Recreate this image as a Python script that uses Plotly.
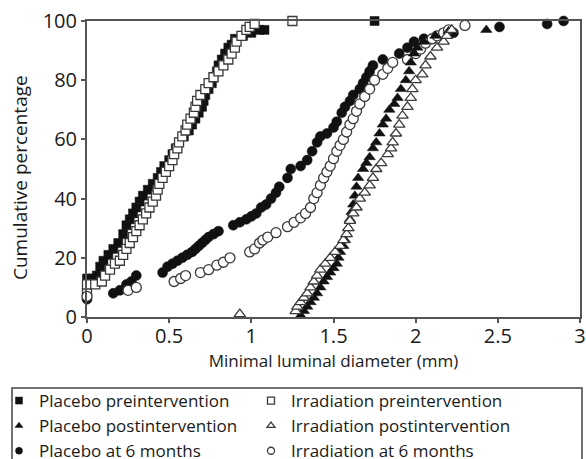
import plotly.graph_objects as go

# Placebo preintervention (filled squares)
pp_x = [0, 0.03, 0.06, 0.08, 0.1, 0.13, 0.16, 0.19, 0.22, 0.24, 0.26, 0.28, 0.3, 0.32, 0.34, 0.37, 0.4, 0.43, 0.45, 0.47,
        0.5, 0.52, 0.54, 0.56, 0.59, 0.62, 0.64, 0.66, 0.68, 0.7, 0.71, 0.72, 0.74, 0.76, 0.77, 0.79, 0.8, 0.82, 0.84, 0.86,
        0.88, 0.9, 0.95, 1.0, 1.05, 1.08, 1.75]
pp_y = [13, 13, 14, 17, 19, 21, 23, 25, 28, 31, 33, 35, 37, 39, 41, 43, 45, 47, 49, 51,
        53, 55, 57, 59, 61, 63, 65, 67, 69, 71, 73, 75, 77, 79, 81, 83, 85, 87, 89, 91,
        92, 94, 95, 96, 97, 97, 100]

# Irradiation preintervention (open squares)
ip_x = [0, 0, 0.05, 0.09, 0.11, 0.14, 0.17, 0.2, 0.22, 0.24, 0.26, 0.28, 0.3, 0.32, 0.34, 0.36, 0.38, 0.4, 0.42, 0.43,
        0.44, 0.46, 0.48, 0.5, 0.52, 0.53, 0.55, 0.56, 0.58, 0.6, 0.61, 0.63, 0.65, 0.66, 0.67, 0.69, 0.72, 0.74, 0.77, 0.8,
        0.83, 0.86, 0.88, 0.9, 0.91, 0.94, 0.97, 0.99, 1.02, 1.25]
ip_y = [8, 11, 11, 12, 14, 16, 18, 19, 21, 23, 25, 27, 29, 31, 33, 35, 37, 39, 41, 43,
        45, 47, 49, 51, 53, 55, 57, 59, 61, 63, 65, 67, 69, 71, 73, 75, 77, 79, 81, 83,
        85, 87, 89, 91, 93, 95, 97, 98, 99, 100]

# Placebo postintervention (filled triangles)
ppo_x = [1.3, 1.32, 1.34, 1.36, 1.38, 1.4, 1.42, 1.44, 1.46, 1.48, 1.5, 1.52, 1.53, 1.54, 1.56, 1.57, 1.58, 1.59, 1.6, 1.61,
         1.62, 1.63, 1.64, 1.65, 1.68, 1.7, 1.72, 1.74, 1.76, 1.78, 1.8, 1.82, 1.84, 1.87, 1.89, 1.91, 1.94, 1.96, 1.97, 1.99,
         2.01, 2.05, 2.12, 2.2, 2.43]
ppo_y = [0.5, 2, 3.5, 5, 6.5, 8, 10, 12, 13.5, 15, 16.5, 18, 20, 22, 24, 26, 28, 30, 33, 35.5,
         38, 41, 44, 47, 50, 52, 54, 57, 59, 62, 65, 67, 70, 72, 74, 77, 80, 83, 86, 89,
         91, 93, 95, 96.5, 97]

# Irradiation postintervention (open triangles)
ipo_x = [0.93, 1.27, 1.28, 1.3, 1.32, 1.34, 1.36, 1.38, 1.4, 1.42, 1.45, 1.48, 1.51, 1.54, 1.56, 1.58, 1.59, 1.6, 1.62, 1.64,
         1.66, 1.69, 1.72, 1.74, 1.76, 1.79, 1.83, 1.85, 1.86, 1.88, 1.9, 1.92, 1.95, 1.97, 1.98, 2.0, 2.04, 2.06, 2.09, 2.13,
         2.17, 2.19, 2.22]
ipo_y = [1, 2, 3.5, 5, 6.5, 8, 10, 12, 14, 16, 18, 20, 22, 24, 26, 28, 30, 32.5, 35, 37,
         40, 42, 44.5, 47, 50, 52, 55, 57, 59, 62, 65, 68, 71, 74, 77, 80, 82, 85, 88, 91,
         93, 95, 97]

# Placebo at 6 months (filled circles)
p6_x = [0, 0.16, 0.2, 0.24, 0.27, 0.3, 0.46, 0.49, 0.52, 0.55, 0.58, 0.61, 0.64, 0.66, 0.68, 0.7, 0.72, 0.74, 0.77, 0.8,
        0.89, 0.93, 0.97, 1.0, 1.03, 1.06, 1.09, 1.12, 1.15, 1.17, 1.22, 1.24, 1.3, 1.34, 1.37, 1.4, 1.42, 1.46, 1.5, 1.52,
        1.55, 1.57, 1.6, 1.62, 1.66, 1.68, 1.7, 1.72, 1.74, 1.8, 1.9, 1.95, 1.99, 2.05, 2.23, 2.51, 2.8, 2.9]
p6_y = [6, 8, 9, 11, 12, 14, 15, 17, 18, 19, 20, 21, 22, 23, 24, 25, 26, 27, 28, 29,
        31, 32, 33, 34, 35, 37, 38, 40, 42, 44, 47, 50, 51, 53, 56, 59, 61, 62, 64, 66,
        69, 71, 73, 75, 77, 79, 81, 83, 85, 87, 89, 91, 93, 94, 96, 98, 99, 100]

# Irradiation at 6 months (open circles)
i6_x = [0, 0.25, 0.3, 0.53, 0.57, 0.6, 0.69, 0.74, 0.79, 0.83, 0.87, 0.99, 1.02, 1.05, 1.07, 1.1, 1.15, 1.22, 1.26, 1.3,
        1.33, 1.36, 1.38, 1.4, 1.42, 1.44, 1.46, 1.48, 1.5, 1.52, 1.54, 1.56, 1.58, 1.6, 1.62, 1.64, 1.66, 1.69, 1.72, 1.75,
        1.8, 1.83, 1.86, 1.95, 2.0, 2.03, 2.06, 2.1, 2.13, 2.17, 2.2, 2.3]
i6_y = [7, 9, 10, 12, 13, 14, 15, 16, 17.5, 18.5, 20, 22, 23, 25, 26, 27, 28.5, 30.5, 32, 33.5,
        35, 37, 40, 42, 44.5, 47, 49, 51, 53.5, 56, 58, 60, 62.5, 65, 67, 69.5, 72, 74.5, 77, 80,
        82, 84, 86, 87, 89, 90.5, 92.5, 94, 95, 96, 97, 98.5]

x_ticks = [0, 0.5, 1, 1.5, 2, 2.5, 3]
x_tick_text = ["0", "0.5", "1", "1.5", "2", "2.5", "3"]
y_ticks = [0, 20, 40, 60, 80, 100]

FILL = "#111111"
EDGE = "#3a3a3a"

# drawing order (name, x, y, symbol, filled, size)
series = [
    ("Placebo preintervention", pp_x, pp_y, "square", True, 9),
    ("Irradiation preintervention", ip_x, ip_y, "square", False, 9),
    ("Placebo at 6 months", p6_x, p6_y, "circle", True, 10),
    ("Irradiation at 6 months", i6_x, i6_y, "circle", False, 10),
    ("Placebo postintervention", ppo_x, ppo_y, "triangle-up", True, 10),
    ("Irradiation postintervention", ipo_x, ipo_y, "triangle-up", False, 10),
]
# legend columns
legend_col1 = ["Placebo preintervention", "Placebo postintervention", "Placebo at 6 months"]
legend_col2 = ["Irradiation preintervention", "Irradiation postintervention", "Irradiation at 6 months"]


def mk(sym, filled, size):
    if filled:
        return dict(symbol=sym, size=size, color=FILL, line=dict(color=FILL, width=0.5))
    return dict(symbol=sym, size=size, color="white", line=dict(color=EDGE, width=1.3))


fig = go.Figure()
for name, xs, ys, sym, filled, size in series:
    fig.add_trace(go.Scatter(x=xs, y=ys, mode="markers", name=name, marker=mk(sym, filled, size),
                             showlegend=False, cliponaxis=False))

lookup = {s[0]: s for s in series}
for leg, names in (("legend", legend_col1), ("legend2", legend_col2)):
    for rank, name in enumerate(names):
        _, _, _, sym, filled, _ = lookup[name]
        fig.add_trace(go.Scatter(x=[None], y=[None], mode="markers", name=name, legend=leg,
                                 marker=mk(sym, filled, 7), legendrank=rank + 1, showlegend=True))

leg_common = dict(orientation="v", xanchor="left", y=(317 - 383) / 296, yanchor="top",
                  font=dict(size=17, family="Open Sans", color="#1a1a1a"),
                  itemsizing="trace", tracegroupgap=0, bgcolor="rgba(0,0,0,0)")

fig.update_layout(
    width=586, height=459,
    margin=dict(l=87, r=6, t=21, b=142, autoexpand=False),
    paper_bgcolor="white", plot_bgcolor="white",
    font=dict(family="Open Sans", color="#1a1a1a"),
    showlegend=True,
    legend=dict(x=(-1 - 87) / 493, **leg_common),
    legend2=dict(x=(251 - 87) / 493, **leg_common),
    shapes=[dict(type="rect", xref="paper", yref="paper",
                 x0=(12 - 87) / 493, x1=(582 - 87) / 493,
                 y0=(317 - 470) / 296, y1=(317 - 388) / 296,
                 line=dict(color="#444444", width=1.5), fillcolor="rgba(0,0,0,0)", layer="below")],
    annotations=[dict(text="Cumulative percentage", textangle=-90, showarrow=False,
                      xref="paper", yref="paper", x=(20 - 87) / 493, y=(317 - 178) / 296,
                      xanchor="center", yanchor="middle", font=dict(size=19, color="#1a1a1a"))],
)
fig.update_xaxes(range=[0, 3], tickvals=x_ticks, ticktext=x_tick_text,
                 showgrid=False, zeroline=False,
                 showline=True, linecolor="#555555", linewidth=2, mirror=True,
                 ticks="outside", ticklen=4, tickcolor="#555555", tickwidth=2,
                 tickfont=dict(size=20), ticklabelstandoff=-4,
                 title=dict(text="Minimal luminal diameter (mm)", font=dict(size=17), standoff=4))
fig.update_yaxes(range=[0, 100], tickvals=y_ticks,
                 showgrid=False, zeroline=False,
                 showline=True, linecolor="#555555", linewidth=2, mirror=True,
                 ticks="outside", ticklen=4, tickcolor="#555555", tickwidth=2,
                 tickfont=dict(size=20))

fig.write_html("out.html", config={"displayModeBar": False},
               post_script="document.body.style.margin='0';document.body.style.overflow='hidden';")
